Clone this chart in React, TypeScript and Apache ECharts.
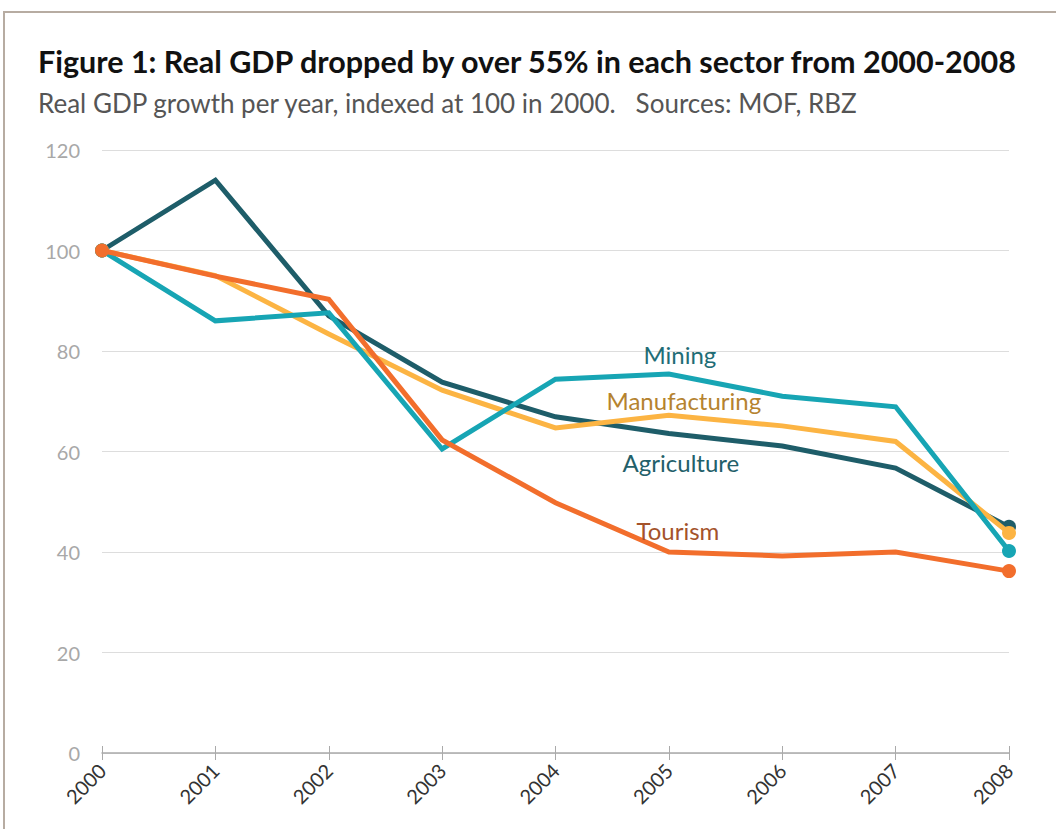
import React, { useEffect, useRef } from "react";
import * as echarts from "echarts";

const years = ["2000", "2001", "2002", "2003", "2004", "2005", "2006", "2007", "2008"];
const agriculture = [100, 114.0, 87.0, 73.8, 66.9, 63.6, 61.1, 56.7, 45.0];
const mining = [100, 86.0, 87.6, 60.5, 74.4, 75.4, 71.0, 68.9, 40.2];
const manufacturing = [100, 95.0, 83.4, 72.2, 64.7, 67.2, 65.1, 62.0, 43.8];
const tourism = [100, 94.9, 90.3, 62.3, 49.8, 40.0, 39.2, 40.0, 36.2];
const yTicks = [0, 20, 40, 60, 80, 100, 120];

const TITLE = "Figure 1: Real GDP dropped by over 55% in each sector from 2000-2008";
const SUBTITLE = "Real GDP growth per year, indexed at 100 in 2000.   Sources: MOF, RBZ";

const labelIndex = 5;

function withEnds(values: number[], name: string, label: any) {
  return values.map((v, i) => {
    const item: any = { value: v };
    if (i === 0 || i === values.length - 1) {
      item.symbol = "circle";
      item.symbolSize = 14;
    } else {
      item.symbol = "circle";
      item.symbolSize = 0;
    }
    if (i === labelIndex) {
      item.label = { show: true, formatter: name, ...label };
    }
    return item;
  });
}

export default function App() {
  const ref = useRef<HTMLDivElement>(null);
  useEffect(() => {
    document.body.style.margin = "0";
    const chart = echarts.init(ref.current!, null, { renderer: "svg" });
    const font = "'Lato', 'Noto Sans', sans-serif";
    const mk = (name: string, data: number[], color: string, label: any, z: number) => ({
      name,
      type: "line",
      data: withEnds(data, name, label),
      lineStyle: { color, width: 5, join: "miter" },
      itemStyle: { color },
      showSymbol: true,
      showAllSymbol: true,
      z,
      label: { show: false },
      emphasis: { disabled: true },
    });
    chart.setOption({
      animation: false,
      backgroundColor: "#ffffff",
      graphic: [
        {
          type: "rect",
          shape: { x: 4, y: 12, width: 1200, height: 1000 },
          style: { fill: "none", stroke: "#b7aca2", lineWidth: 2 },
          silent: true,
        },
        {
          type: "text",
          left: 38,
          top: 45,
          style: {
            text: TITLE,
            font: `bold 30.5px ${font}`,
            fill: "#111111",
          },
        },
        {
          type: "text",
          left: 38,
          top: 90,
          style: {
            text: SUBTITLE,
            font: `26px ${font}`,
            fill: "#555555",
          },
        },
      ],
      grid: { left: 102, right: 47, top: 150, bottom: 76, containLabel: false },
      xAxis: [
        {
          type: "category",
          data: years,
          boundaryGap: false,
          axisLine: { show: true, lineStyle: { color: "#aaaaaa", width: 1.5 } },
          axisTick: { show: true, length: 7, alignWithLabel: true, lineStyle: { color: "#aaaaaa" } },
          axisLabel: {
            rotate: 45,
            color: "#333333",
            fontSize: 20,
            fontFamily: font,
            margin: 14,
          },
          splitLine: { show: false },
        },
        {
          type: "category",
          data: years,
          boundaryGap: false,
          position: "bottom",
          axisLine: { show: false },
          axisTick: { show: true, inside: true, length: 7, lineStyle: { color: "#aaaaaa" } },
          axisLabel: { show: false },
        },
      ],
      yAxis: {
        type: "value",
        min: yTicks[0],
        max: yTicks[yTicks.length - 1],
        interval: 20,
        axisLine: { show: false },
        axisTick: { show: false },
        axisLabel: { color: "#a8a8a8", fontSize: 20, fontFamily: font, margin: 22 },
        splitLine: { lineStyle: { color: "#dddddd", width: 1 } },
      },
      series: [
        mk("Agriculture", agriculture, "#1e5d69", { position: "bottom", offset: [12, 12], color: "#23606a", fontSize: 24, fontFamily: font }, 2),
        mk("Manufacturing", manufacturing, "#fcb443", { position: "top", offset: [15, 2], color: "#b5832f", fontSize: 24, fontFamily: font }, 3),
        mk("Mining", mining, "#17a5b4", { position: "top", offset: [11, -3], color: "#1f6d76", fontSize: 24, fontFamily: font }, 4),
        mk("Tourism", tourism, "#f26e2c", { position: "top", offset: [9, -5], color: "#a4532b", fontSize: 24, fontFamily: font }, 5),
      ],
    });
    return () => chart.dispose();
  }, []);
  return <div ref={ref} style={{ width: 1056, height: 829 }} />;
}
